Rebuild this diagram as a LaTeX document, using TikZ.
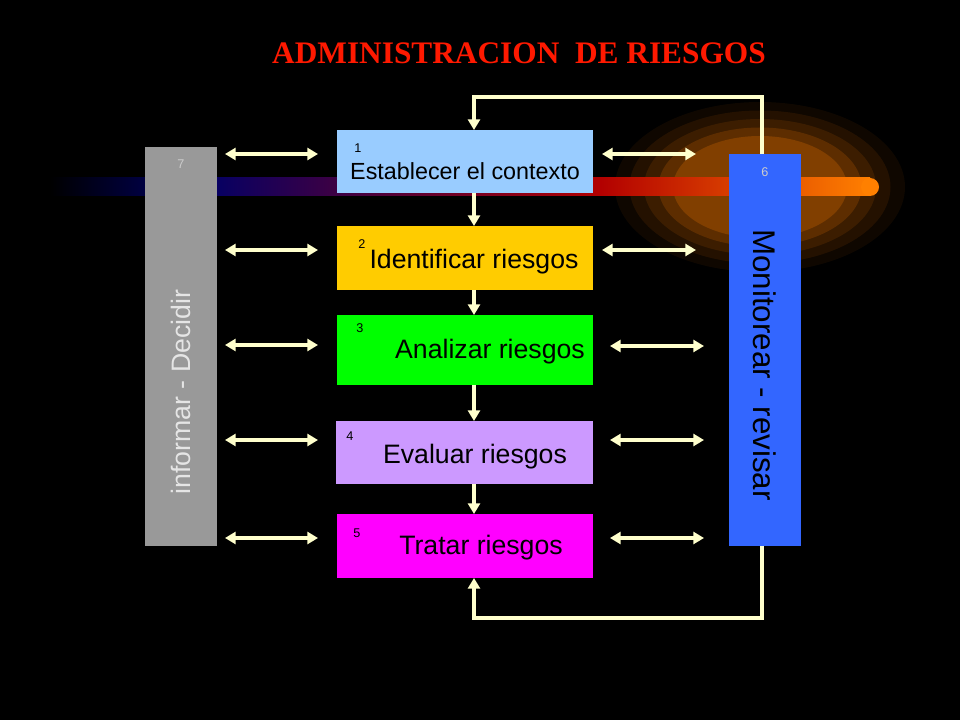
\documentclass[tikz,border=0pt]{standalone}
\usepackage{fontspec}
\setmainfont{Liberation Sans}
\newfontfamily\titlefont{Liberation Serif}
\usetikzlibrary{arrows.meta}
\definecolor{cream}{HTML}{FFFFCC}
\definecolor{cbar}{HTML}{3366FF}
\definecolor{cone}{HTML}{99CCFF}
\definecolor{ctwo}{HTML}{FFCC00}
\definecolor{cthree}{HTML}{00FF00}
\definecolor{cfour}{HTML}{CC99FF}
\definecolor{cfive}{HTML}{FF00FF}
\begin{document}
\begin{tikzpicture}[x=0.75pt,y=-0.75pt,
  num/.style={font=\fontsize{9.5}{10}\selectfont,text=black},
  lbl/.style={text=black},
  link/.style={cream,line width=2.6pt,-{Triangle[length=8pt,width=9pt]}},
  dbl/.style={cream,line width=2.4pt,{Triangle[length=8pt,width=9pt]}-{Triangle[length=8pt,width=9pt]}}]
\fill[black] (0,0) rectangle (960,720);
\useasboundingbox (0,0) rectangle (960,720);
% glow
\fill[left color=black,right color=blue!40!black] (50,178) rectangle (200,196);
\fill[left color=blue!40!black,right color=red!70!black] (200,178) rectangle (600,196);
\foreach \r/\c in {1/10,0.9/20,0.8/30,0.7/45,0.6/60}{
  \fill[orange!\c!black,opacity=0.6] (760,187) ellipse ({145*\r} and {85*\r});}
\fill[left color=red!70!black,right color=orange] (600,178) rectangle (870,196);
\fill[orange] (870,187) circle (9);
\node[text=red!80!orange,font=\titlefont\bfseries\fontsize{23.5}{26}\selectfont] (title) at (519,53) {ADMINISTRACION\ \ DE RIESGOS};
% side bars
\fill[black!40] (145,147) rectangle (217,546);
\fill[cbar] (729,154) rectangle (801,546);
\node[num,text=black!20] (n7) at (181,164) {7};
\node[num,text=black!20] (n6) at (765,172) {6};
\node[rotate=90,font=\fontsize{20}{22}\selectfont,text=black!10] (Lt) at (181,392) {informar - Decidir};
\node[rotate=-90,font=\fontsize{23.5}{26}\selectfont,text=black] (Rt) at (765,365) {Monitorear - revisar};
% boxes
\fill[cone] (337,130) rectangle (593,193);
\fill[ctwo] (337,226) rectangle (593,290);
\fill[cthree] (337,315) rectangle (593,385);
\fill[cfour] (336,421) rectangle (593,484);
\fill[cfive] (337,514) rectangle (593,578);
\coordinate (b1t) at (474,130); \coordinate (b1b) at (474,193);
\coordinate (b2t) at (474,226); \coordinate (b2b) at (474,290);
\coordinate (b3t) at (474,315); \coordinate (b3b) at (474,385);
\coordinate (b4t) at (474,421); \coordinate (b4b) at (474,484);
\coordinate (b5t) at (474,514); \coordinate (b5b) at (474,578);
\coordinate (Rtop) at (762,154); \coordinate (Rbot) at (762,546);
\node[num] (n1) at (358,148) {1};
\node[num] (n2) at (362,244) {2};
\node[num] (n3) at (360,328) {3};
\node[num] (n4) at (350,436) {4};
\node[num] (n5) at (357,533) {5};
\node[lbl,font=\fontsize{17.5}{20}\selectfont] (t1) at (465,171) {Establecer el contexto};
\node[lbl,font=\fontsize{20}{22}\selectfont] (t2) at (474,262) {Identificar riesgos};
\node[lbl,font=\fontsize{20}{22}\selectfont] (t3) at (490,352) {Analizar riesgos};
\node[lbl,font=\fontsize{20}{22}\selectfont] (t4) at (475,457) {Evaluar riesgos};
\node[lbl,font=\fontsize{20}{22}\selectfont] (t5) at (481,548) {Tratar riesgos};
% down arrows
\draw[link] (b1b) -- (b2t);
\draw[link] (b2b) -- (b3t);
\draw[link] (b3b) -- (b4t);
\draw[link] (b4b) -- (b5t);
% loops
\draw[link] (Rtop) -- (762,97) -- (474,97) -- (b1t);
\draw[link] (Rbot) -- (762,618) -- (474,618) -- (b5b);
% double arrows
\foreach \y in {154,250,345,440,538}{\draw[dbl] (225,\y) -- (318,\y);}
\foreach \y in {154,250}{\draw[dbl] (602,\y) -- (696,\y);}
\foreach \y in {346,440,538}{\draw[dbl] (610,\y) -- (704,\y);}
\end{tikzpicture}
\end{document}
